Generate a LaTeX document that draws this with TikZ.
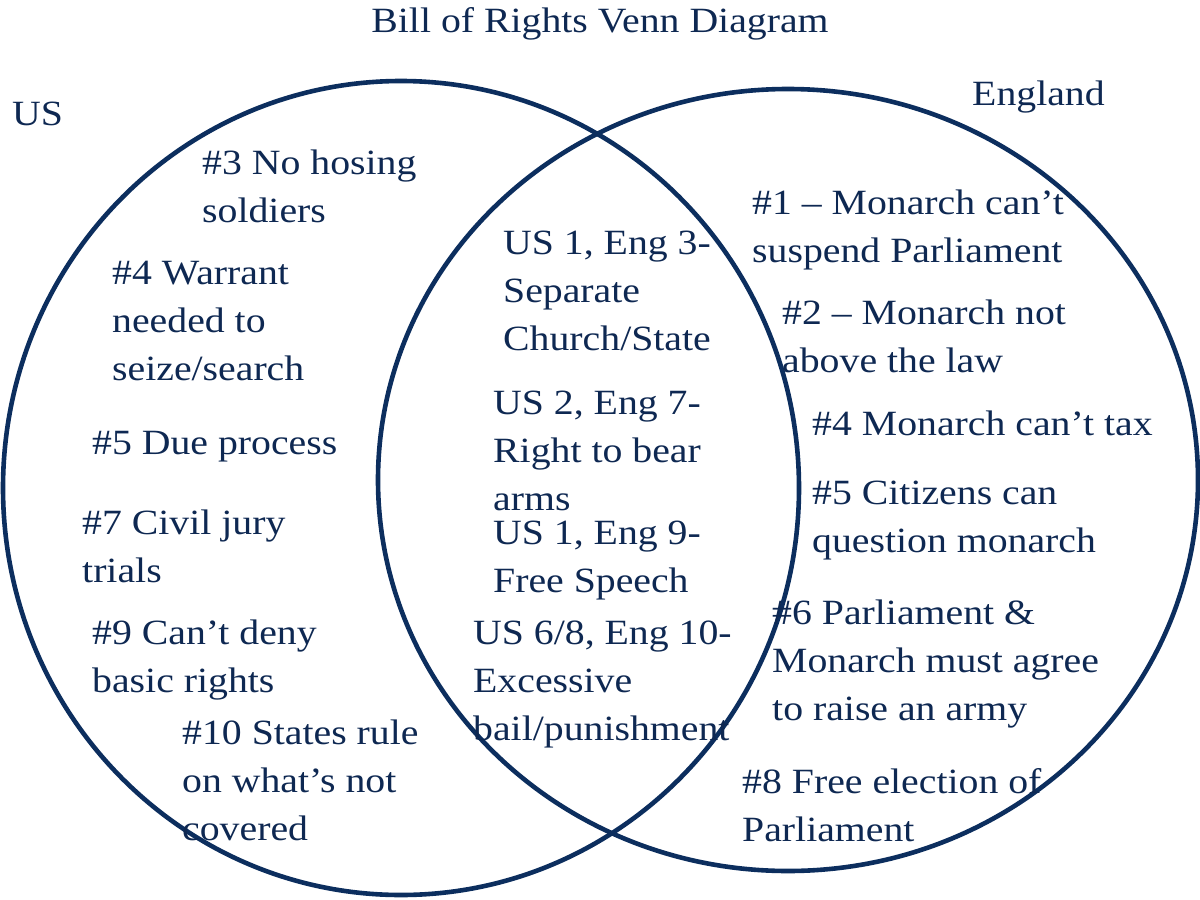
\documentclass[tikz,border=0pt]{standalone}
\usepackage{fontspec}
\setmainfont[FakeStretch=1.12]{Liberation Serif}
\usetikzlibrary{shapes.geometric}
\definecolor{navyline}{RGB}{12,46,94}
\definecolor{navytext}{RGB}{14,40,82}
\begin{document}
\begin{tikzpicture}[x=1pt,y=-1pt,
  setcircle/.style={ellipse, draw=navyline, line width=4.6pt, inner sep=0pt},
  lbl/.style={anchor=base west, inner sep=0pt, align=left, text=navytext,
    font=\fontsize{35.5}{48}\selectfont},
  ttl/.style={anchor=base, inner sep=0pt, text=navytext,
    font=\fontsize{35.5}{48}\selectfont}]
\useasboundingbox (0,0) rectangle (1200,900);
\fill[white] (0,0) rectangle (1200,900);
\node[setcircle, minimum width=796pt, minimum height=814pt] (uscircle) at (401,488) {};
\node[setcircle, minimum width=820pt, minimum height=782pt] (engcircle) at (788,480) {};
\node[ttl] (title) at (600,32) {Bill of Rights Venn Diagram};
\node[lbl] (us) at (12,125) {US};
\node[lbl] (eng) at (972,105) {England};
% US side (anchor = baseline of last line)
\node[lbl] (us3) at (202,222) {\#3 No hosing\\soldiers};
\node[lbl] (us4) at (112,380) {\#4 Warrant\\needed to\\seize/search};
\node[lbl] (us5) at (92,454) {\#5 Due process};
\node[lbl] (us7) at (82,582) {\#7 Civil jury\\trials};
\node[lbl] (us9) at (92,692) {\#9 Can’t deny\\basic rights};
\node[lbl] (us10) at (182,840) {\#10 States rule\\on what’s not\\covered};
% both
\node[lbl] (b1) at (503,350) {US 1, Eng 3-\\Separate\\Church/State};
\node[lbl] (b2) at (493,510) {US 2, Eng 7-\\Right to bear\\arms};
\node[lbl] (b3) at (493,592) {US 1, Eng 9-\\Free Speech};
\node[lbl] (b4) at (473,740) {US 6/8, Eng 10-\\Excessive\\bail/punishment};
% England side
\node[lbl] (e1) at (752,262) {\#1 – Monarch can’t\\suspend Parliament};
\node[lbl] (e2) at (782,372) {\#2 – Monarch not\\above the law};
\node[lbl] (e4) at (812,435) {\#4 Monarch can’t tax};
\node[lbl] (e5) at (812,552) {\#5 Citizens can\\question monarch};
\node[lbl] (e6) at (772,720) {\#6 Parliament \&\\Monarch must agree\\to raise an army};
\node[lbl] (e8) at (742,841) {\#8 Free election of\\Parliament};
\end{tikzpicture}
\end{document}
